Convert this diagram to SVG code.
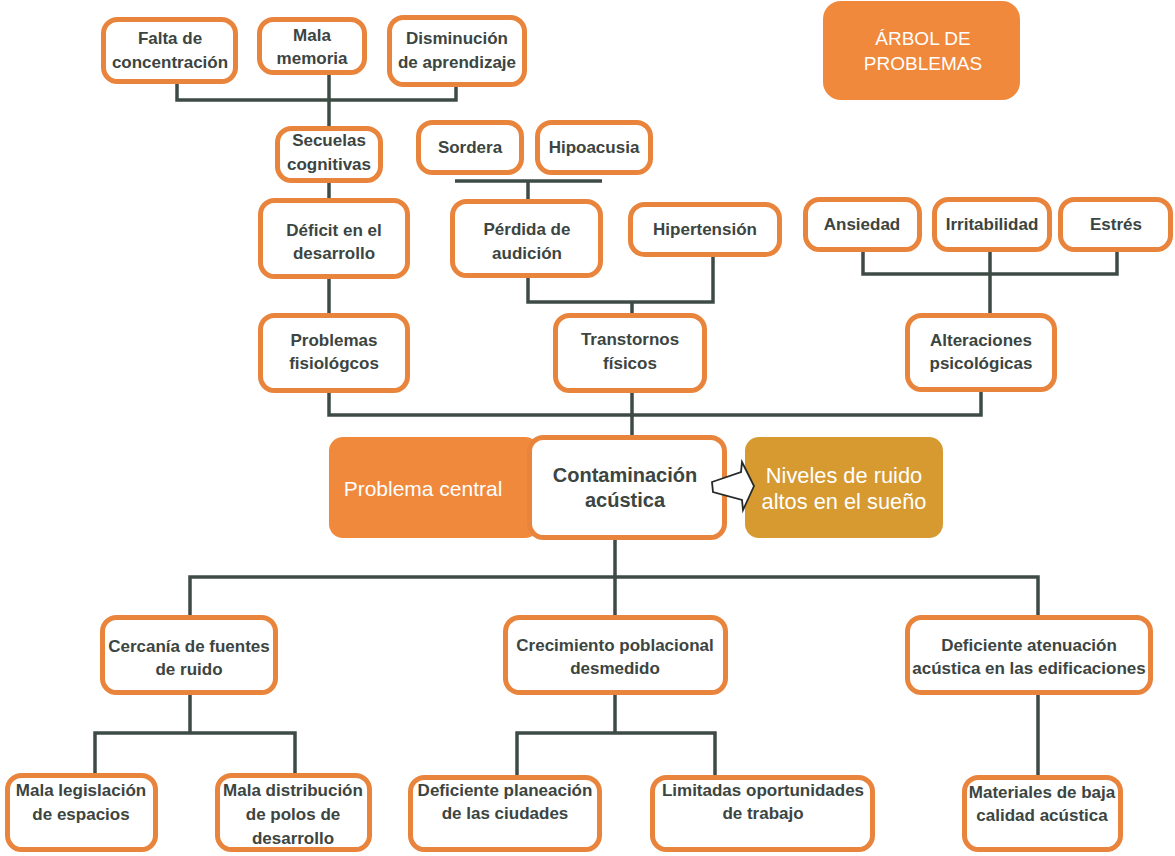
<svg xmlns="http://www.w3.org/2000/svg" width="1175" height="856" viewBox="0 0 1175 856">
<style>
.b{fill:#fff;stroke:#E9843C;stroke-width:5}
.f{fill:#F0893C}
.g{fill:#D69A31}
.t{font-family:"Liberation Sans",Arial,sans-serif;font-weight:bold;font-size:17px;fill:#3C4541;text-anchor:middle;dominant-baseline:central}
.w{font-family:"Liberation Sans",Arial,sans-serif;font-size:21px;fill:#fff;text-anchor:middle;dominant-baseline:central}
.c{fill:none;stroke:#3E4B45;stroke-width:3.5}
</style>
<rect width="1175" height="856" fill="#fff"/>
<g id="connectors" class="c">
<path d="M177,84 V100 H456 V87 M329,75 V126"/>
<path d="M329,183 V198 M329,279 V313"/>
<path d="M329,393 V415 H981 V392 M632,393 V437"/>
<path d="M455,181 H602 M528,181 V199"/>
<path d="M528,278 V302 H713 V257 M632,302 V313"/>
<path d="M863,252 V274 H1117 V252 M990,252 V313"/>
<path d="M615,540 V615 M190,615 V577 H1038 V615"/>
<path d="M190,695 V733 M95,773 V733 H295 V773"/>
<path d="M615,695 V733 M517,775 V733 H715 V775"/>
<path d="M1038,695 V775"/>
</g>
<g id="n-titulo"><rect class="f" x="823" y="1" width="197" height="99" rx="18"/><text class="w" x="923" y="38" style="font-size:19px">ÁRBOL DE</text><text class="w" x="923" y="63" style="font-size:19px">PROBLEMAS</text></g>
<g id="n-falta"><rect class="b" x="103.5" y="19.5" width="132" height="62" rx="14"/><text class="t" x="170" y="38">Falta de</text><text class="t" x="170" y="62">concentración</text></g>
<g id="n-memoria"><rect class="b" x="259.5" y="19.5" width="105" height="53" rx="14"/><text class="t" x="312" y="35">Mala</text><text class="t" x="312" y="58">memoria</text></g>
<g id="n-disminucion"><rect class="b" x="389.5" y="17.5" width="135" height="67" rx="14"/><text class="t" x="457" y="38">Disminución</text><text class="t" x="457" y="62">de aprendizaje</text></g>
<g id="n-secuelas"><rect class="b" x="277.5" y="128.5" width="103" height="52" rx="14"/><text class="t" x="329" y="140">Secuelas</text><text class="t" x="329" y="164">cognitivas</text></g>
<g id="n-deficit"><rect class="b" x="260.5" y="200.5" width="147" height="76" rx="14"/><text class="t" x="334" y="230">Déficit en el</text><text class="t" x="334" y="253">desarrollo</text></g>
<g id="n-fisiologicos"><rect class="b" x="260.5" y="315.5" width="147" height="75" rx="14"/><text class="t" x="334" y="340">Problemas</text><text class="t" x="334" y="363">fisiológcos</text></g>
<g id="n-sordera"><rect class="b" x="418.5" y="122.5" width="103" height="50" rx="14"/><text class="t" x="470" y="147">Sordera</text></g>
<g id="n-hipoacusia"><rect class="b" x="537.5" y="122.5" width="113" height="50" rx="14"/><text class="t" x="594" y="147">Hipoacusia</text></g>
<g id="n-perdida"><rect class="b" x="452.5" y="201.5" width="148" height="74" rx="14"/><text class="t" x="527" y="229">Pérdida de</text><text class="t" x="527" y="253">audición</text></g>
<g id="n-hipertension"><rect class="b" x="630.5" y="204.5" width="149" height="50" rx="14"/><text class="t" x="705" y="229">Hipertensión</text></g>
<g id="n-transtornos"><rect class="b" x="555.5" y="315.5" width="149" height="75" rx="14"/><text class="t" x="630" y="339">Transtornos</text><text class="t" x="630" y="363">físicos</text></g>
<g id="n-ansiedad"><rect class="b" x="805.5" y="199.5" width="114" height="50" rx="14"/><text class="t" x="862" y="224">Ansiedad</text></g>
<g id="n-irritabilidad"><rect class="b" x="934.5" y="199.5" width="115" height="50" rx="14"/><text class="t" x="992" y="224">Irritabilidad</text></g>
<g id="n-estres"><rect class="b" x="1060.5" y="199.5" width="110" height="50" rx="14"/><text class="t" x="1116" y="224">Estrés</text></g>
<g id="n-alteraciones"><rect class="b" x="907.5" y="315.5" width="147" height="74" rx="14"/><text class="t" x="981" y="340">Alteraciones</text><text class="t" x="981" y="363">psicológicas</text></g>
<g id="n-central"><rect class="f" x="329" y="437" width="210" height="101" rx="14"/><text class="w" x="423" y="488">Problema central</text></g>
<g id="n-contaminacion"><rect class="b" x="529.5" y="437.5" width="195" height="100" rx="14"/><text class="t" x="625" y="475" style="font-size:20px">Contaminación</text><text class="t" x="625" y="500" style="font-size:20px">acústica</text></g>
<g id="n-niveles"><rect class="g" x="745" y="437" width="198" height="101" rx="14"/><text class="w" x="844" y="475" style="font-size:21.8px">Niveles de ruido</text><text class="w" x="844" y="501" style="font-size:21.8px">altos en el sueño</text></g>
<g id="arrow"><polygon points="712,482 741,472 742,462 754,486 743,510 742,500 713,492" fill="#fff" stroke="#262B29" stroke-width="1.8" stroke-linejoin="miter"/></g>
<g id="n-cercania"><rect class="b" x="102.5" y="617.5" width="173" height="75" rx="14"/><text class="t" x="189" y="646">Cercanía de fuentes</text><text class="t" x="189" y="669">de ruido</text></g>
<g id="n-crecimiento"><rect class="b" x="505.5" y="617.5" width="220" height="75" rx="14"/><text class="t" x="615" y="645">Crecimiento poblacional</text><text class="t" x="615" y="668">desmedido</text></g>
<g id="n-atenuacion"><rect class="b" x="907.5" y="617.5" width="243" height="75" rx="14"/><text class="t" x="1029" y="645">Deficiente atenuación</text><text class="t" x="1029" y="668">acústica en las edificaciones</text></g>
<g id="n-legislacion"><rect class="b" x="7.5" y="775.5" width="148" height="74" rx="14"/><text class="t" x="81" y="790">Mala legislación</text><text class="t" x="81" y="814">de espacios</text></g>
<g id="n-distribucion"><rect class="b" x="217.5" y="775.5" width="152" height="74" rx="14"/><text class="t" x="293" y="790">Mala distribución</text><text class="t" x="293" y="814">de polos de</text><text class="t" x="293" y="838">desarrollo</text></g>
<g id="n-planeacion"><rect class="b" x="410.5" y="777.5" width="189" height="72" rx="14"/><text class="t" x="505" y="790">Deficiente planeación</text><text class="t" x="505" y="813">de las ciudades</text></g>
<g id="n-oportunidades"><rect class="b" x="652.5" y="777.5" width="220" height="72" rx="14"/><text class="t" x="763" y="790">Limitadas oportunidades</text><text class="t" x="763" y="813">de trabajo</text></g>
<g id="n-materiales"><rect class="b" x="964.5" y="777.5" width="156" height="72" rx="14"/><text class="t" x="1042" y="792">Materiales de baja</text><text class="t" x="1042" y="815">calidad acústica</text></g>
</svg>
